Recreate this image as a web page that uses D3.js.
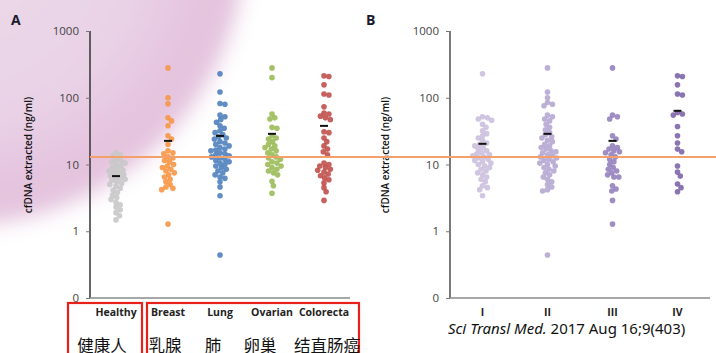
<!DOCTYPE html>
<html>
<head>
<meta charset="utf-8">
<script src="https://cdn.jsdelivr.net/npm/d3@7"></script>
<style>
  html, body { margin: 0; padding: 0; background: #fff; }
  svg { display: block; }
</style>
</head>
<body>
<div id="chart"></div>
<script>
// tick values (0 is drawn at the 0.1 position of the log axis)
var yTicks = [0.1, 1, 10, 100, 1000];
var yTickLabels = ["0", "1", "10", "100", "1000"];
var threshold = 13;

// panel A: cancer types
var typesA = ["Healthy", "Breast", "Lung", "Ovarian", "Colorecta"];
var typesAzh = ["健康人", "乳腺", "肺", "卵巢", "结直肠癌"];
var healthy = [15, 14, 13.5, 12, 11.5, 11, 10.5, 10, 9.5, 9, 8.5, 8.2, 8, 7.6, 7.3, 7, 6.8, 6.5, 6.2, 6, 5.8, 5.5, 5.2, 5, 4.7, 4.4, 4.1, 3.8, 3.5, 3.2, 3, 2.7, 2.5, 2.3, 2.1, 1.9, 1.7, 1.48];
var breast = [280, 100, 81, 50, 45, 38, 27, 24, 20, 16, 15, 14.5, 13, 12.5, 11.5, 11, 10, 9.5, 9, 8.5, 8, 7.5, 7, 6.5, 6, 5.5, 5, 4.6, 4.4, 4.2, 1.28];
var lung = [228, 122, 82, 80, 55, 52, 47, 43, 38, 35, 32, 30, 28, 26, 25, 24, 22, 21, 20, 19, 18, 17, 16.5, 16, 15, 14.5, 14, 13.5, 13, 12.5, 12, 11.5, 11, 10.5, 10, 9.5, 9, 8.5, 8, 7.5, 7, 6.5, 6.2, 5.5, 4.6, 3.4, 0.44];
var ovarian = [280, 200, 57, 50, 48, 36, 35, 27, 25, 24, 22, 20, 19, 18, 17, 16, 15, 14, 13, 12.5, 12, 11, 10.5, 10, 9.5, 9, 8.5, 8, 7.5, 7, 5.6, 4.8, 3.7];
var colorectal = [213, 208, 156, 114, 110, 73, 59, 57, 53, 50, 47, 31, 30, 25, 22, 19, 17, 15.5, 14, 10.5, 10, 9.5, 9, 8.5, 8.2, 7.7, 7.2, 6.8, 6.3, 5.9, 5.3, 4.5, 3.9, 2.9];
var meansA = [6.7, 22.6, 26.8, 28.8, 37.9];
var colorsA = ["#c8c8c8", "#f79646", "#4f81bd", "#9bbb59", "#c0504d"];

// panel B: stages
var stagesB = ["I", "II", "III", "IV"];
var stageI = [228, 52, 50, 48, 46, 40, 36, 32, 29, 27, 25, 23, 21, 20, 19, 18, 17, 16, 15, 14.5, 14, 13.5, 13, 12.5, 12, 11.5, 11, 10.5, 10, 9.5, 9, 8.5, 8, 7.5, 7, 6.5, 6, 5.5, 4.8, 4.5, 4.2, 3.4];
var stageII = [280, 122, 100, 85, 80, 76, 55, 52, 48, 45, 40, 36, 33, 30, 28, 26, 25, 23, 22, 20, 19, 18, 17, 16, 15.5, 15, 14, 13.5, 13, 12.5, 12, 11.5, 11, 10.5, 10, 9.5, 9, 8.5, 8, 7.5, 7, 6.5, 6, 5.5, 5, 4.6, 4.2, 4, 0.44];
var stageIII = [280, 55, 52, 48, 27, 24, 19, 18, 17, 16, 15.5, 15, 14, 13, 12, 11, 10, 9, 8.5, 8, 7.5, 7, 6.5, 6.5, 4.8, 4.3, 4, 2.9, 1.28];
var stageIV = [213, 208, 156, 114, 110, 60, 57, 55, 37, 27, 21, 17, 15.5, 9.5, 7.7, 6.7, 5.1, 4.5, 3.9];
var meansB = [20.4, 28.8, 22.6, 63.7];
var colorsB = ["#cbc0de", "#b6a7d1", "#9582be", "#7e66a9"];

var W = 716, H = 353;
var svg = d3.select("#chart").append("svg")
    .attr("width", W)
    .attr("height", H);

// soft pink blob in the top-left corner
var defs = svg.append("defs");
var grad = defs.append("radialGradient")
    .attr("id", "pink")
    .attr("gradientUnits", "userSpaceOnUse")
    .attr("cx", -40).attr("cy", -60).attr("r", 305);
grad.append("stop").attr("offset", "0%").attr("stop-color", "#ecdcea");
grad.append("stop").attr("offset", "60%").attr("stop-color", "#e9d1e6");
grad.append("stop").attr("offset", "84%").attr("stop-color", "#e4c2de");
grad.append("stop").attr("offset", "91%").attr("stop-color", "#e6c8e0");
grad.append("stop").attr("offset", "100%").attr("stop-color", "#ffffff").attr("stop-opacity", 0);
defs.append("filter").attr("id", "blur")
    .attr("x", "-20%").attr("y", "-20%").attr("width", "140%").attr("height", "140%")
    .append("feGaussianBlur").attr("stdDeviation", 7);
svg.append("circle")
    .attr("cx", -40).attr("cy", -60).attr("r", 305)
    .attr("fill", "url(#pink)")
    .attr("filter", "url(#blur)");

var y = d3.scaleLog().domain([0.1, 1000]).range([298, 31]);

// simple beeswarm: push each dot sideways until it clears the ones placed before
function swarm(values, cx, minDist) {
    var placed = [];
    var sorted = values.slice().sort(function (a, b) { return b - a; });
    sorted.forEach(function (v) {
        var py = y(v), dx = 0, k = 0;
        while (k < 60) {
            dx = (k % 2 ? 1 : -1) * Math.ceil(k / 2) * 0.7;
            var ok = placed.every(function (p) {
                var ddx = p.x - (cx + dx), ddy = p.y - py;
                return ddx * ddx + ddy * ddy >= minDist * minDist;
            });
            if (ok) break;
            k++;
        }
        placed.push({x: cx + dx, y: py});
    });
    return placed;
}

function panel(opt) {
    var x = d3.scalePoint().domain(opt.cats).range([opt.x0, opt.x1]).padding(0.5);
    var g = svg.append("g");

    // dots
    opt.series.forEach(function (vals, i) {
        g.append("g").selectAll("circle")
            .data(swarm(vals, x(opt.cats[i]), 4.6))
            .join("circle")
            .attr("cx", function (d) { return d.x; })
            .attr("cy", function (d) { return d.y; })
            .attr("r", 2.8)
            .attr("fill", opt.colors[i])
            .attr("fill-opacity", 0.9);
    });

    // mean markers
    g.append("g").selectAll("line")
        .data(opt.means)
        .join("line")
        .attr("x1", function (d, i) { return x(opt.cats[i]) - 4; })
        .attr("x2", function (d, i) { return x(opt.cats[i]) + 4; })
        .attr("y1", function (d) { return y(d); })
        .attr("y2", function (d) { return y(d); })
        .attr("stroke", "#111")
        .attr("stroke-width", 2);

    // y axis
    var ax = g.append("g")
        .attr("transform", "translate(" + opt.x0 + ",0)")
        .call(d3.axisLeft(y).tickValues(yTicks)
            .tickFormat(function (d, i) { return yTickLabels[i]; })
            .tickSize(4).tickPadding(7));
    ax.select(".domain").attr("stroke", opt.axisColor).attr("stroke-width", opt.axisWidth)
        .attr("d", "M0," + y(1000) + "V" + y(0.1));
    ax.selectAll(".tick line").attr("stroke", "#777");
    ax.selectAll(".tick text")
        .attr("fill", "#444")
        .style("font-family", "'Open Sans', 'Noto Sans', sans-serif")
        .style("font-size", "11.5px");

    // baseline
    g.append("line")
        .attr("x1", opt.x0).attr("x2", opt.x1)
        .attr("y1", y(0.1)).attr("y2", y(0.1))
        .attr("stroke", "#8a8a8a").attr("stroke-width", 1.5);

    // category labels
    g.append("g").selectAll("text")
        .data(opt.cats)
        .join("text")
        .attr("x", function (d) { return x(d); })
        .attr("y", 316)
        .attr("text-anchor", "middle")
        .style("font-family", "'Open Sans', 'Noto Sans', sans-serif")
        .style("font-size", "10.5px")
        .style("font-weight", "bold")
        .attr("fill", "#222")
        .text(function (d) { return d; });

    // axis title
    g.append("text")
        .attr("transform", "translate(" + opt.titleX + ",155) rotate(-90)")
        .attr("text-anchor", "middle")
        .style("font-family", "'Open Sans', 'Noto Sans', sans-serif")
        .style("font-size", "10px")
        .style("font-weight", "600")
        .attr("fill", "#111")
        .text("cfDNA extracted (ng/ml)");

    // panel letter
    g.append("text")
        .attr("x", opt.letterX).attr("y", 25)
        .style("font-family", "'Open Sans', 'Noto Sans', sans-serif")
        .style("font-size", "14px")
        .style("font-weight", "bold")
        .attr("fill", "#1a1a2e")
        .text(opt.letter);

    return x;
}

var xA = panel({
    cats: typesA, series: [healthy, breast, lung, ovarian, colorectal],
    means: meansA, colors: colorsA, x0: 90, x1: 350,
    axisColor: "#333", axisWidth: 1.5, titleX: 32, letter: "A", letterX: 11
});
var xB = panel({
    cats: stagesB, series: [stageI, stageII, stageIII, stageIV],
    means: meansB, colors: colorsB, x0: 450, x1: 710,
    axisColor: "#7a7a7a", axisWidth: 2, titleX: 389, letter: "B", letterX: 366
});

// threshold line across both panels
svg.append("line")
    .attr("x1", 90).attr("x2", W)
    .attr("y1", y(threshold)).attr("y2", y(threshold))
    .attr("stroke", "#f3a06c").attr("stroke-width", 2);

// red boxes and Chinese labels under panel A
var boxes = [[68, 142], [147, 359]];
svg.append("g").selectAll("rect")
    .data(boxes)
    .join("rect")
    .attr("x", function (d) { return d[0]; })
    .attr("y", 303)
    .attr("width", function (d) { return d[1] - d[0]; })
    .attr("height", 60)
    .attr("fill", "none")
    .attr("stroke", "#e8201c")
    .attr("stroke-width", 2.2);

// label nudges relative to each category centre
var zhShift = [-14, -3, -7, -12, 3];
svg.append("g").selectAll("text")
    .data(typesAzh)
    .join("text")
    .attr("x", function (d, i) { return xA(typesA[i]) + zhShift[i]; })
    .attr("y", 352)
    .attr("text-anchor", "middle")
    .style("font-family", "'Noto Sans CJK SC', sans-serif")
    .style("font-size", "16.5px")
    .attr("fill", "#111")
    .text(function (d) { return d; });

// citation
var cite = svg.append("text")
    .attr("x", 448).attr("y", 334)
    .style("font-family", "'Noto Sans', 'Open Sans', sans-serif")
    .style("font-size", "15px")
    .attr("fill", "#111");
cite.append("tspan").style("font-style", "italic").text("Sci Transl Med.");
cite.append("tspan").text(" 2017 Aug 16;9(403)");
</script>
</body>
</html>
